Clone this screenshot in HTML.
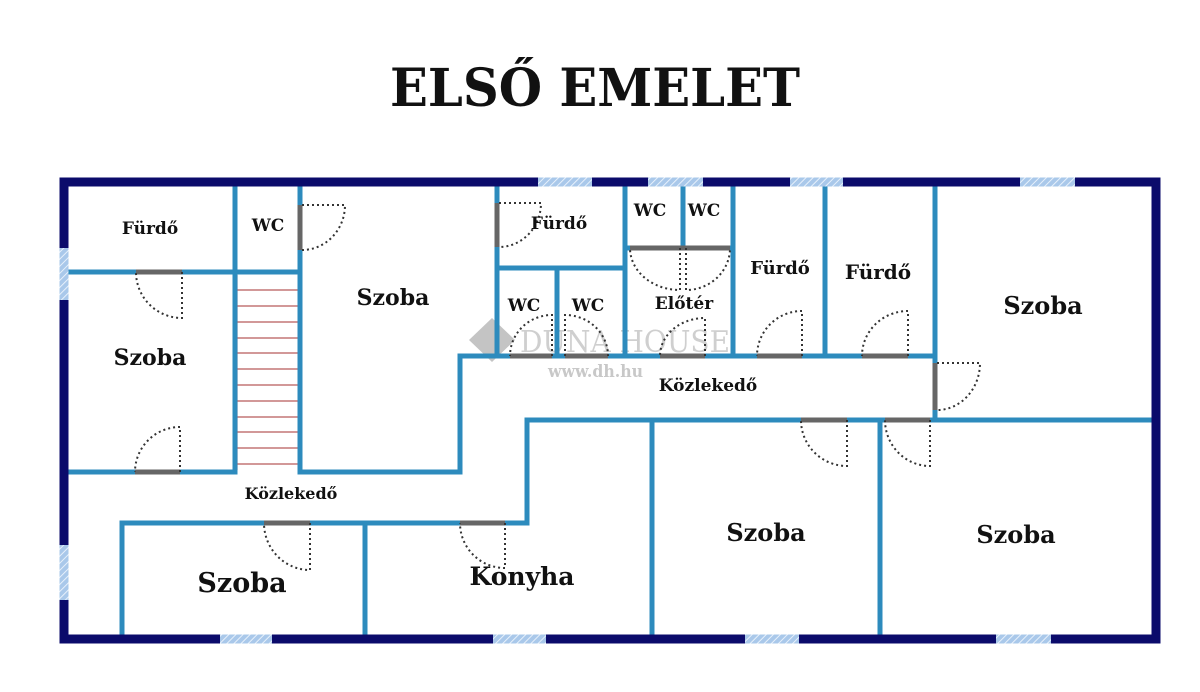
<!DOCTYPE html>
<html><head><meta charset="utf-8"><style>
html,body{margin:0;padding:0;background:#fff;}
svg{display:block;}
text{font-family:"DejaVu Serif","Liberation Serif",serif;font-weight:bold;fill:#111;}
</style></head><body>
<svg width="1200" height="692" viewBox="0 0 1200 692" xmlns="http://www.w3.org/2000/svg">
<defs>
<pattern id="hatch" width="5" height="5" patternUnits="userSpaceOnUse" patternTransform="rotate(45)">
<rect width="5" height="5" fill="#a9c8ea"/><line x1="0" y1="0" x2="0" y2="5" stroke="#e6f0fb" stroke-width="2"/>
</pattern>
</defs>
<text x="595" y="106" font-size="52" text-anchor="middle" textLength="410" lengthAdjust="spacingAndGlyphs">ELSŐ EMELET</text>

<!-- stairs -->
<g stroke="#b85a5a" stroke-width="1.2">
<line x1="237" y1="275" x2="237" y2="470"/>
<line x1="237" y1="290" x2="298" y2="290"/><line x1="237" y1="306" x2="298" y2="306"/>
<line x1="237" y1="322" x2="298" y2="322"/><line x1="237" y1="338" x2="298" y2="338"/>
<line x1="237" y1="353" x2="298" y2="353"/><line x1="237" y1="369" x2="298" y2="369"/>
<line x1="237" y1="385" x2="298" y2="385"/><line x1="237" y1="401" x2="298" y2="401"/>
<line x1="237" y1="417" x2="298" y2="417"/><line x1="237" y1="432" x2="298" y2="432"/>
<line x1="237" y1="448" x2="298" y2="448"/><line x1="237" y1="464" x2="298" y2="464"/>
</g>

<!-- watermark -->
<g fill="#c4c4c4">
<path d="M492,318 L515,340 L492,362 L469,340 Z"/>
<text x="520" y="352" font-size="30" style="fill:#cfcfcf;font-weight:normal" textLength="210" lengthAdjust="spacingAndGlyphs">DUNA HOUSE</text>
<text x="548" y="377" font-size="17" style="fill:#c8c8c8" textLength="95" lengthAdjust="spacingAndGlyphs">www.dh.hu</text>
</g>

<!-- inner walls -->
<g stroke="#2d8bbd" stroke-width="5" fill="none" stroke-linecap="square">
<line x1="64" y1="272" x2="300" y2="272"/>
<line x1="235" y1="182" x2="235" y2="472"/>
<line x1="300" y1="182" x2="300" y2="472"/>
<line x1="64" y1="472" x2="235" y2="472"/>
<polyline points="300,472 460,472 460,356 935,356"/>
<line x1="497" y1="182" x2="497" y2="356"/>
<line x1="497" y1="268" x2="625" y2="268"/>
<line x1="557" y1="268" x2="557" y2="356"/>
<line x1="625" y1="182" x2="625" y2="356"/>
<line x1="683" y1="182" x2="683" y2="248"/>
<line x1="625" y1="248" x2="733" y2="248"/>
<line x1="733" y1="182" x2="733" y2="356"/>
<line x1="825" y1="182" x2="825" y2="356"/>
<line x1="935" y1="182" x2="935" y2="420"/>
<line x1="935" y1="420" x2="1156" y2="420"/>
<polyline points="935,420 527,420 527,523 122,523 122,639"/>
<line x1="365" y1="523" x2="365" y2="639"/>
<line x1="652" y1="420" x2="652" y2="639"/>
<line x1="880" y1="420" x2="880" y2="639"/>
</g>

<!-- door openings (gray) -->
<g stroke="#666" stroke-width="5">
<line x1="300" y1="205" x2="300" y2="250"/>
<line x1="136" y1="272" x2="182" y2="272"/>
<line x1="135" y1="472" x2="180" y2="472"/>
<line x1="497" y1="203" x2="497" y2="247"/>
<line x1="510" y1="356" x2="552" y2="356"/>
<line x1="565" y1="356" x2="608" y2="356"/>
<line x1="630" y1="248" x2="730" y2="248"/>
<line x1="660" y1="356" x2="705" y2="356"/>
<line x1="757" y1="356" x2="802" y2="356"/>
<line x1="862" y1="356" x2="908" y2="356"/>
<line x1="935" y1="363" x2="935" y2="410"/>
<line x1="801" y1="420" x2="847" y2="420"/>
<line x1="885" y1="420" x2="930" y2="420"/>
<line x1="264" y1="523" x2="310" y2="523"/>
<line x1="460" y1="523" x2="505" y2="523"/>
</g>

<!-- door swings -->
<g stroke="#333" stroke-width="2" fill="none" stroke-dasharray="2,3">
<path d="M302,205 H345 A43,45 0 0 1 302,250"/>
<path d="M182,272 V318 A46,46 0 0 1 136,272"/>
<path d="M180,472 V427 A45,45 0 0 0 135,472"/>
<path d="M499,203 H541 A42,44 0 0 1 499,247"/>
<path d="M552,356 V315 A42,41 0 0 0 510,356"/>
<path d="M565,356 V315 A43,41 0 0 1 608,356"/>
<path d="M680,248 V290 A50,42 0 0 1 630,248"/>
<path d="M686,248 V290 A44,42 0 0 0 730,248"/>
<path d="M705,356 V318 A45,38 0 0 0 660,356"/>
<path d="M802,356 V311 A45,45 0 0 0 757,356"/>
<path d="M908,356 V311 A46,45 0 0 0 862,356"/>
<path d="M937,363 H980 A43,47 0 0 1 937,410"/>
<path d="M847,420 V466 A46,46 0 0 1 801,420"/>
<path d="M930,420 V466 A45,46 0 0 1 885,420"/>
<path d="M310,523 V570 A46,47 0 0 1 264,523"/>
<path d="M505,523 V568 A45,45 0 0 1 460,523"/>
</g>

<!-- outer wall -->
<rect x="64" y="182" width="1092" height="457" fill="none" stroke="#0b0b6b" stroke-width="9"/>
<!-- windows -->
<g fill="url(#hatch)">
<rect x="538" y="177.5" width="54" height="9"/>
<rect x="648" y="177.5" width="55" height="9"/>
<rect x="790" y="177.5" width="53" height="9"/>
<rect x="1020" y="177.5" width="55" height="9"/>
<rect x="59.5" y="248" width="9" height="52"/>
<rect x="59.5" y="545" width="9" height="55"/>
<rect x="220" y="634.5" width="52" height="9"/>
<rect x="493" y="634.5" width="53" height="9"/>
<rect x="745" y="634.5" width="54" height="9"/>
<rect x="996" y="634.5" width="55" height="9"/>
</g>

<!-- labels -->
<g text-anchor="middle">
<text x="150" y="234" font-size="17">Fürdő</text>
<text x="268" y="231" font-size="17">WC</text>
<text x="393" y="305" font-size="22">Szoba</text>
<text x="150" y="365" font-size="22">Szoba</text>
<text x="559" y="229" font-size="17">Fürdő</text>
<text x="650" y="216" font-size="17">WC</text>
<text x="704" y="216" font-size="17">WC</text>
<text x="524" y="311" font-size="17">WC</text>
<text x="588" y="311" font-size="17">WC</text>
<text x="684" y="309" font-size="17">Előtér</text>
<text x="780" y="274" font-size="18">Fürdő</text>
<text x="878" y="279" font-size="20">Fürdő</text>
<text x="1043" y="314" font-size="24">Szoba</text>
<text x="708" y="391" font-size="17">Közlekedő</text>
<text x="291" y="499" font-size="16">Közlekedő</text>
<text x="242" y="592" font-size="27">Szoba</text>
<text x="522" y="585" font-size="25">Konyha</text>
<text x="766" y="541" font-size="24">Szoba</text>
<text x="1016" y="543" font-size="24">Szoba</text>
</g>
</svg>
</body></html>
